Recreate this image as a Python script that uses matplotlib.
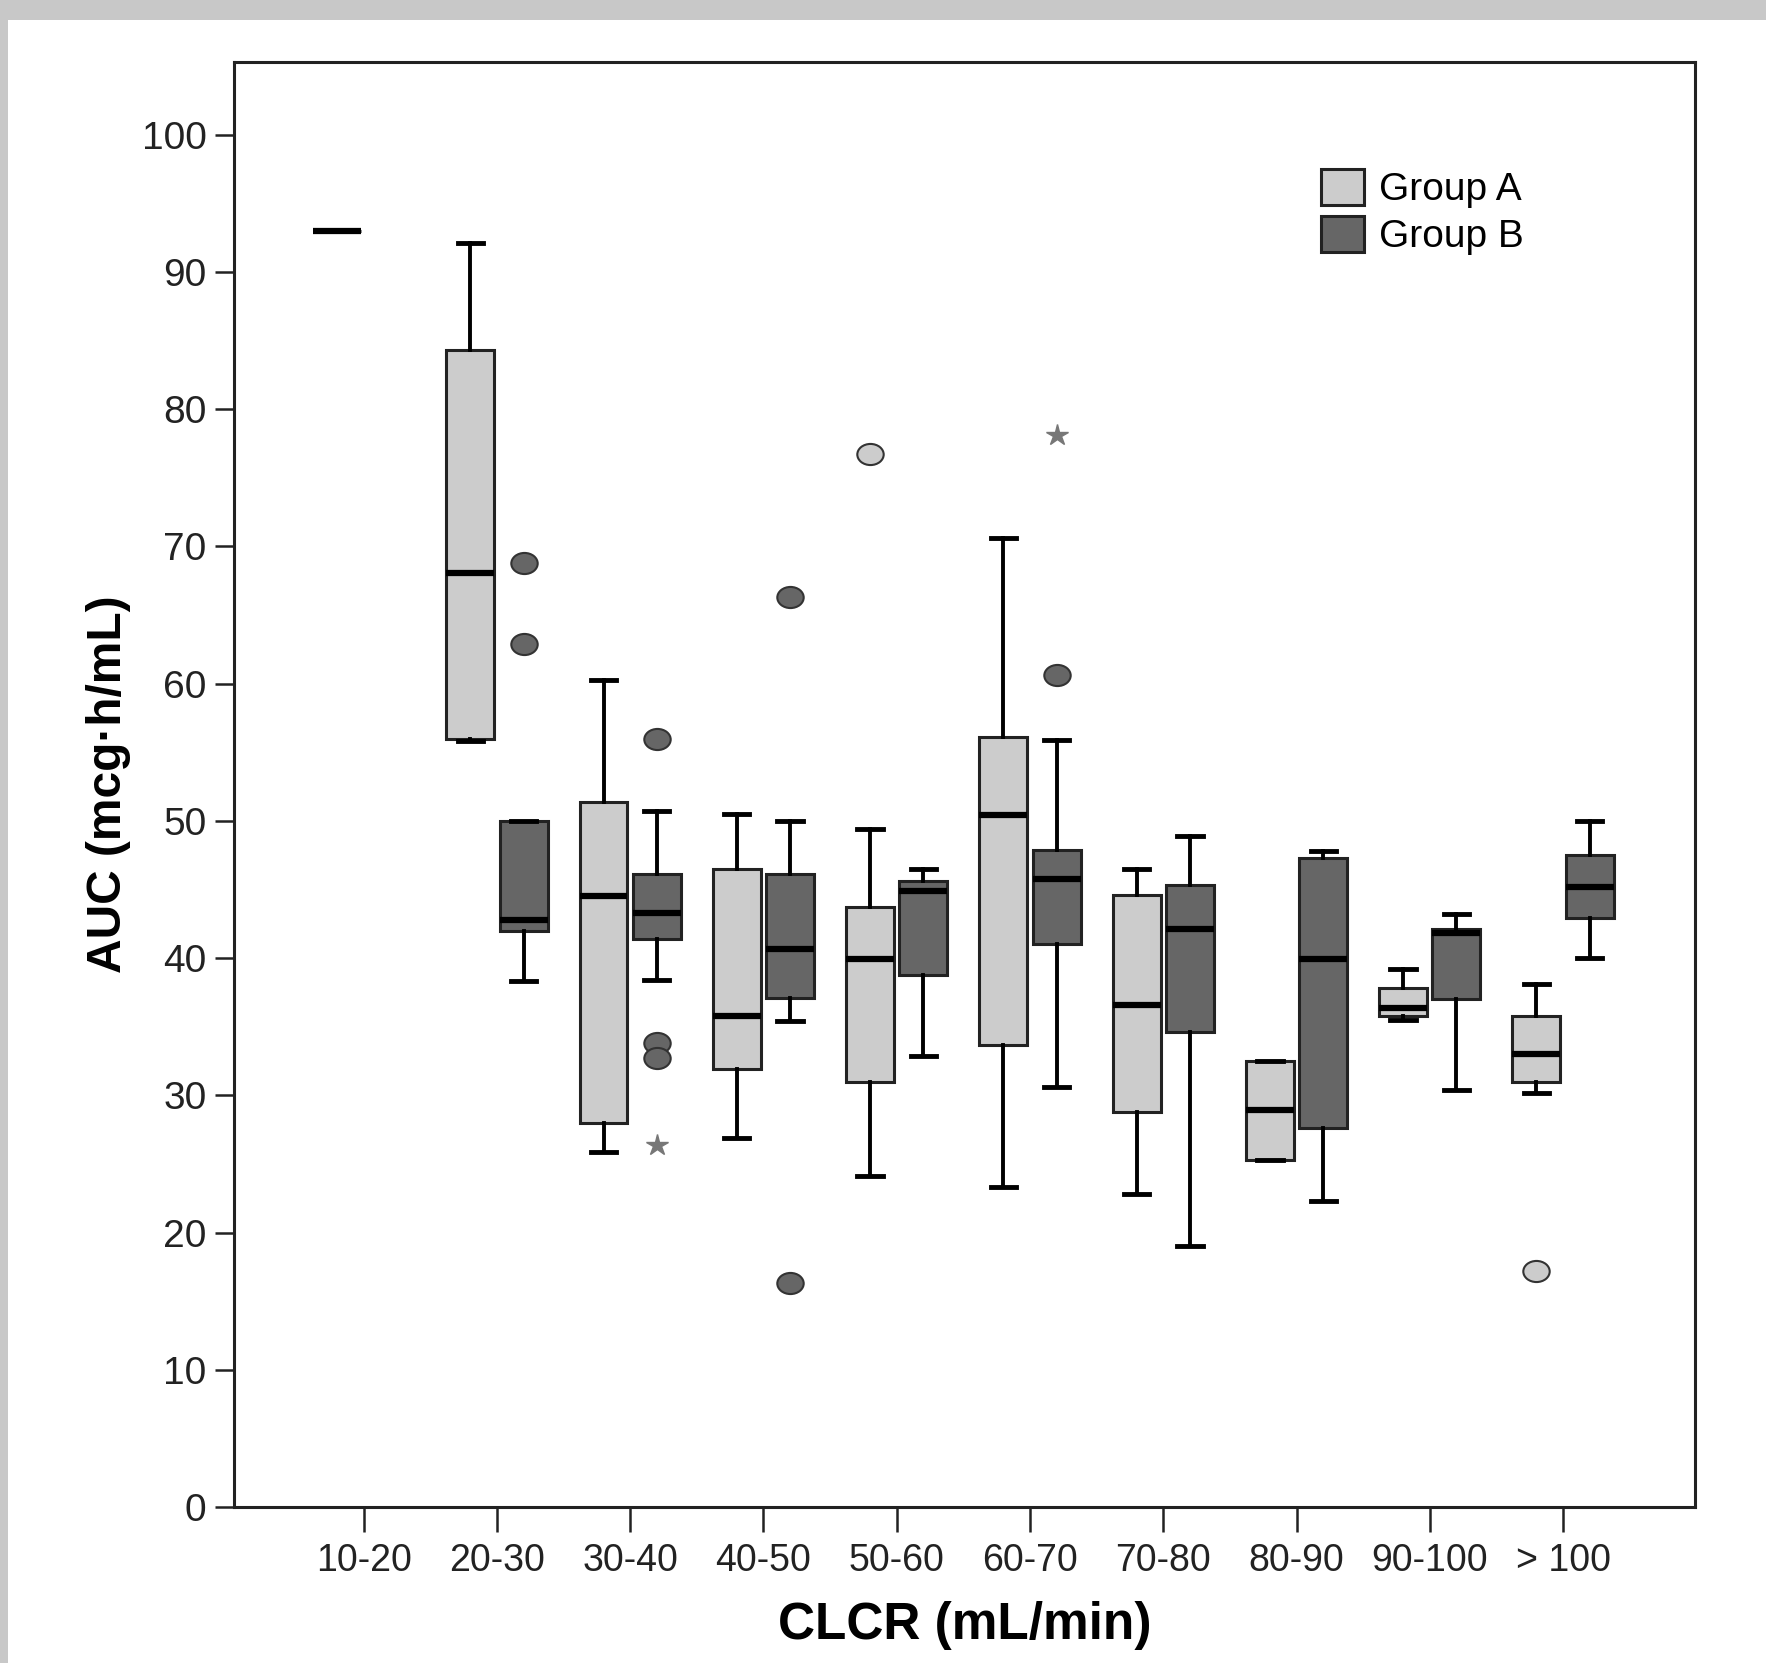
import matplotlib
matplotlib.use("Agg")
import matplotlib.pyplot as plt
from matplotlib.patches import Patch, Rectangle
from matplotlib.path import Path
from matplotlib.transforms import Affine2D

plt.rcParams["font.family"] = ["Liberation Sans", "DejaVu Sans"]

categories = ["10-20", "20-30", "30-40", "40-50", "50-60",
              "60-70", "70-80", "80-90", "90-100", "> 100"]

# Group A box statistics
a_whislo = [93.0, 55.8, 25.9, 26.9, 24.1, 23.3, 22.8, 25.3, 35.5, 30.2]
a_q1 = [93.0, 56.0, 28.0, 31.9, 31.0, 33.7, 28.8, 25.3, 35.8, 31.0]
a_med = [93.0, 68.1, 44.5, 35.8, 39.9, 50.4, 36.6, 28.9, 36.4, 33.0]
a_q3 = [93.0, 84.3, 51.4, 46.5, 43.7, 56.1, 44.6, 32.5, 37.8, 35.8]
a_whishi = [93.0, 92.1, 60.3, 50.5, 49.4, 70.6, 46.5, 32.5, 39.2, 38.1]
a_out = [[], [], [], [], [76.7], [], [], [], [], [17.2]]
a_extreme = [[], [], [], [], [], [], [], [], [], []]

# Group B box statistics (no data for 10-20)
b_whislo = [None, 38.3, 38.4, 35.4, 32.9, 30.6, 19.0, 22.3, 30.4, 40.0]
b_q1 = [None, 42.0, 41.4, 37.1, 38.8, 41.0, 34.6, 27.6, 37.0, 42.9]
b_med = [None, 42.8, 43.3, 40.7, 44.9, 45.8, 42.1, 39.9, 41.8, 45.2]
b_q3 = [None, 50.0, 46.1, 46.1, 45.6, 47.9, 45.3, 47.3, 42.1, 47.5]
b_whishi = [None, 50.0, 50.7, 50.0, 46.5, 55.9, 48.9, 47.8, 43.2, 50.0]
b_out = [[], [68.8, 62.9], [56.0, 33.8, 32.7], [66.3, 16.3], [], [60.6], [], [], [], []]
b_extreme = [[], [], [26.4], [], [], [78.1], [], [], [], []]

color_a = "#cccccc"
color_b = "#666666"
edge = "#222222"

# slightly flattened circle, like the SPSS outlier marker
oval = Path.unit_circle().transformed(Affine2D().scale(1.0, 0.8))


def make_stats(whislo, q1, med, q3, whishi, out):
    stats, pos = [], []
    for i in range(len(med)):
        if med[i] is None:
            continue
        stats.append(dict(whislo=whislo[i], q1=q1[i], med=med[i], q3=q3[i],
                          whishi=whishi[i], fliers=out[i]))
        pos.append(i)
    return stats, pos


fig = plt.figure(figsize=(17.66, 16.63), dpi=100)
fig.patches.append(Rectangle((0, 1 - 20 / 1663), 1, 20 / 1663, transform=fig.transFigure,
                             facecolor="#c8c8c8", edgecolor="none", zorder=0))
fig.patches.append(Rectangle((0, 0), 8 / 1766, 1, transform=fig.transFigure,
                             facecolor="#c8c8c8", edgecolor="none", zorder=0))
ax = fig.add_axes([0.1327, 0.0938, 0.8271, 0.8689])

offset = 0.2
width = 0.36
groups = [
    (a_whislo, a_q1, a_med, a_q3, a_whishi, a_out, a_extreme, -offset, color_a),
    (b_whislo, b_q1, b_med, b_q3, b_whishi, b_out, b_extreme, offset, color_b),
]
for whislo, q1, med, q3, whishi, out, extreme, off, col in groups:
    stats, pos = make_stats(whislo, q1, med, q3, whishi, out)
    ax.bxp(stats, positions=[p + off for p in pos], widths=width, capwidths=0.19,
           patch_artist=True, showfliers=True,
           boxprops=dict(facecolor=col, edgecolor=edge, linewidth=2.2),
           medianprops=dict(color="black", linewidth=4.5, solid_capstyle="butt"),
           whiskerprops=dict(color="black", linewidth=2.8),
           capprops=dict(color="black", linewidth=3.5),
           flierprops=dict(marker=oval, markerfacecolor=col, markeredgecolor="#333333",
                           markeredgewidth=1.5, markersize=19, linestyle="none"))
    xs, ys = [], []
    for i, vals in enumerate(extreme):
        for v in vals:
            xs.append(i + off)
            ys.append(v)
    ax.plot(xs, ys, linestyle="none", marker="*", markersize=16, color="#777777")

ax.set_xlim(-0.97, 9.99)
ax.set_ylim(0, 105.3)
ax.set_xticks(range(len(categories)))
ax.set_xticklabels(categories)
ax.set_yticks(range(0, 101, 10))
ax.tick_params(axis="x", length=18, width=1.8, pad=8, labelsize=27, colors="#222222")
ax.tick_params(axis="y", length=14, width=1.8, pad=6, labelsize=28, colors="#222222")
for sp in ax.spines.values():
    sp.set_linewidth(2.2)
    sp.set_color("#222222")

ax.set_xlabel("CLCR (mL/min)", fontsize=37, fontweight="bold", labelpad=16)
ax.set_ylabel("AUC (mcg·h/mL)", fontsize=34.5, fontweight="bold", labelpad=8)

handles = [Patch(facecolor=color_a, edgecolor=edge, linewidth=2.2, label="Group A"),
           Patch(facecolor=color_b, edgecolor=edge, linewidth=2.2, label="Group B")]
ax.legend(handles=handles, loc="upper left", bbox_to_anchor=(0.744, 0.926),
          frameon=False, borderaxespad=0, borderpad=0, fontsize=28,
          handlelength=1.1, handleheight=1.05, handletextpad=0.4, labelspacing=0.2)

fig.savefig("out.png", dpi=100)
plt.close(fig)
